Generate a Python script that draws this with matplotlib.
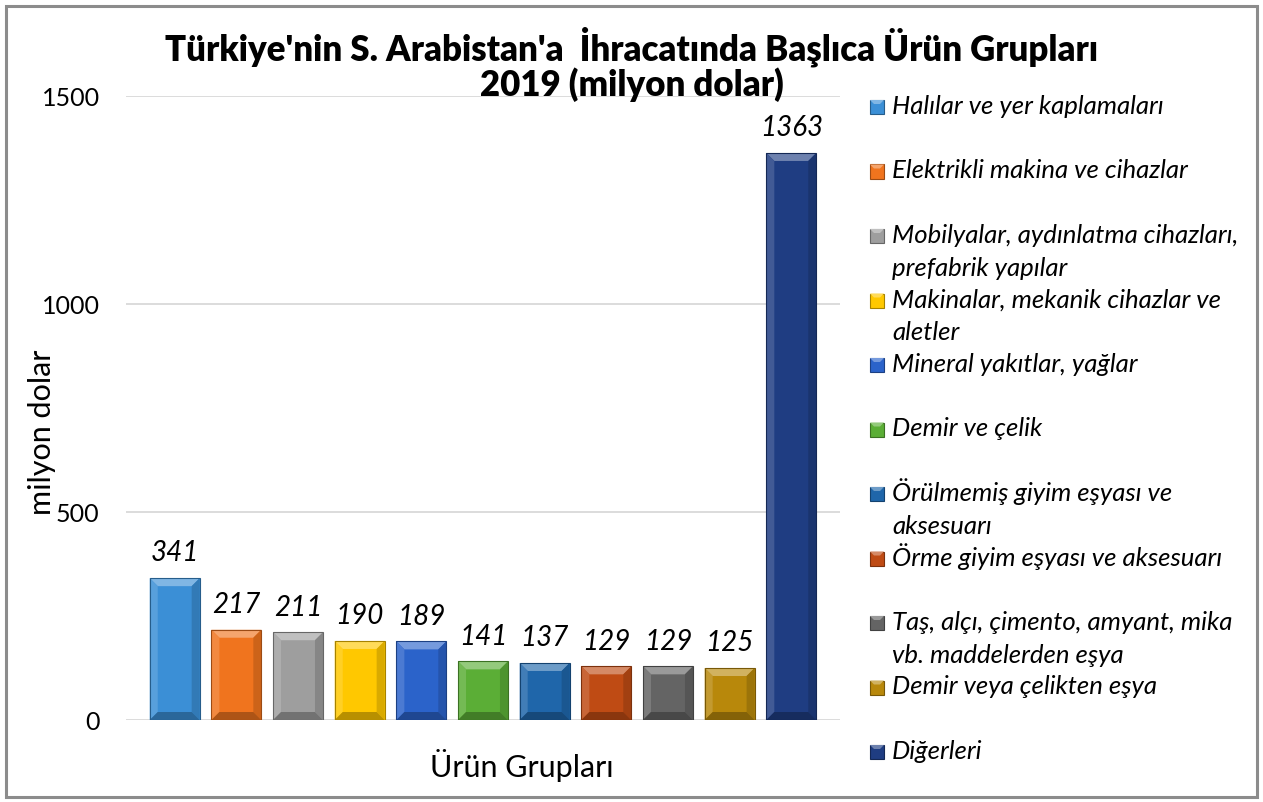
import matplotlib
matplotlib.use("Agg")
import matplotlib.pyplot as plt
from matplotlib.patches import Polygon, Rectangle
from matplotlib.colors import to_rgb
import numpy as np

categories = [
    "Halılar ve yer kaplamaları",
    "Elektrikli makina ve cihazlar",
    "Mobilyalar, aydınlatma cihazları,\nprefabrik yapılar",
    "Makinalar, mekanik cihazlar ve\naletler",
    "Mineral yakıtlar, yağlar",
    "Demir ve çelik",
    "Örülmemiş giyim eşyası ve\naksesuarı",
    "Örme giyim eşyası ve aksesuarı",
    "Taş, alçı, çimento, amyant, mika\nvb. maddelerden eşya",
    "Demir veya çelikten eşya",
    "Diğerleri",
]
values = [341, 217, 211, 190, 189, 141, 137, 129, 129, 125, 1363]
colors = ["#3B8FD6", "#F0741E", "#9E9E9E", "#FFC800", "#2B63CA", "#5BAE36",
          "#1F66AA", "#BF4B14", "#646464", "#B8880B", "#1F3D82"]
yticks = [0, 500, 1000, 1500]
title = "Türkiye'nin S. Arabistan'a  İhracatında Başlıca Ürün Grupları\n2019 (milyon dolar)"
xlabel = "Ürün Grupları"
ylabel = "milyon dolar"

FONT = "Lato"
W, H = 1263, 802
fig = plt.figure(figsize=(W / 100, H / 100), dpi=100)
fig.patch.set_facecolor("white")


def fx(px):
    return px / W


def fy(py):
    return 1 - py / H


def mix(c, t, f):
    c = np.array(to_rgb(c))
    t = np.array(to_rgb(t))
    return tuple(c * (1 - f) + t * f)


ax_l, ax_r, ax_t, ax_b = 126, 840, 96, 720
ax = fig.add_axes([fx(ax_l), fy(ax_b), fx(ax_r - ax_l), (ax_b - ax_t) / H])
ax.set_xlim(-0.79, 10.79)
ax.set_ylim(0, 1500)
ax.set_yticks(yticks)
ax.set_yticklabels([str(v) for v in yticks], fontfamily=FONT, fontsize=18)
ax.tick_params(axis="y", length=0, pad=19)
ax.set_xticks([])
for s in ax.spines.values():
    s.set_visible(False)
ax.yaxis.grid(True, color="#D9D9D9", linewidth=1.3)
ax.set_axisbelow(True)

x = np.arange(len(values))
bars = ax.bar(x, values, width=0.81, color=colors, edgecolor="none", zorder=2)

fig.canvas.draw()
bbox = ax.get_window_extent()
ppx = bbox.width / (ax.get_xlim()[1] - ax.get_xlim()[0])
ppy = bbox.height / (ax.get_ylim()[1] - ax.get_ylim()[0])
bev = 8.0
bx, by = bev / ppx, bev / ppy

for b, c in zip(bars, colors):
    x0, w, h = b.get_x(), b.get_width(), b.get_height()
    x1 = x0 + w
    top = [(x0, h), (x1, h), (x1 - bx, h - by), (x0 + bx, h - by)]
    left = [(x0, 0), (x0, h), (x0 + bx, h - by), (x0 + bx, by)]
    right = [(x1, 0), (x1, h), (x1 - bx, h - by), (x1 - bx, by)]
    bot = [(x0, 0), (x1, 0), (x1 - bx, by), (x0 + bx, by)]
    ax.add_patch(Polygon(top, closed=True, facecolor=mix(c, "white", 0.35), edgecolor="none", zorder=3))
    ax.add_patch(Polygon(left, closed=True, facecolor=mix(c, "white", 0.15), edgecolor="none", zorder=3))
    ax.add_patch(Polygon(right, closed=True, facecolor=mix(c, "black", 0.15), edgecolor="none", zorder=3))
    ax.add_patch(Polygon(bot, closed=True, facecolor=mix(c, "black", 0.28), edgecolor="none", zorder=3))
    ax.add_patch(Rectangle((x0, 0), w, h, facecolor="none", edgecolor=mix(c, "black", 0.35), linewidth=0.8, zorder=4))
    ax.annotate(str(int(h)), (b.get_x() + w / 2, h),
                xytext=(0, 12), textcoords="offset points", ha="center", va="baseline",
                fontfamily=FONT, fontstyle="italic", fontsize=20, color="black", zorder=5)

# Title
lines = title.split("\n")
fig.text(fx(632), fy(47), lines[0], ha="center", va="center", fontfamily=FONT,
         fontweight="heavy", fontsize=25, zorder=10)
fig.text(fx(632), fy(85), lines[1], ha="center", va="center", fontfamily=FONT,
         fontweight="heavy", fontsize=25, zorder=10)

# Axis titles
fig.text(fx(522), fy(765), xlabel, ha="center", va="center", fontfamily=FONT, fontsize=22)
fig.text(fx(42), fy(432), ylabel, ha="center", va="center", rotation=90, fontfamily=FONT, fontsize=22)

# Legend (manual)
y0, step, lh = 107, 64.5, 33
for i, (lab, c) in enumerate(zip(categories, colors)):
    yc = y0 + i * step
    fig.patches.append(Rectangle((fx(870), fy(yc + 7)), fx(14), 14 / H, transform=fig.transFigure,
                                 facecolor=c, edgecolor=mix(c, "black", 0.35), linewidth=0.8))
    fig.patches.append(Polygon([(fx(870), fy(yc - 7)), (fx(884), fy(yc - 7)), (fx(880), fy(yc - 3)), (fx(874), fy(yc - 3))],
                               closed=True, transform=fig.transFigure, facecolor=mix(c, "white", 0.35), edgecolor="none"))
    for k, ln in enumerate(lab.split("\n")):
        fig.text(fx(892), fy(yc + k * lh + 7), ln, ha="left", va="baseline", fontfamily=FONT,
                 fontstyle="italic", fontsize=18.5)

# Border
fig.patches.append(Rectangle((fx(6), fy(797)), fx(1251), 791 / H, transform=fig.transFigure,
                             facecolor="none", edgecolor="#8C8C8C", linewidth=2.2))

fig.savefig("out.png", dpi=100, facecolor="white")
